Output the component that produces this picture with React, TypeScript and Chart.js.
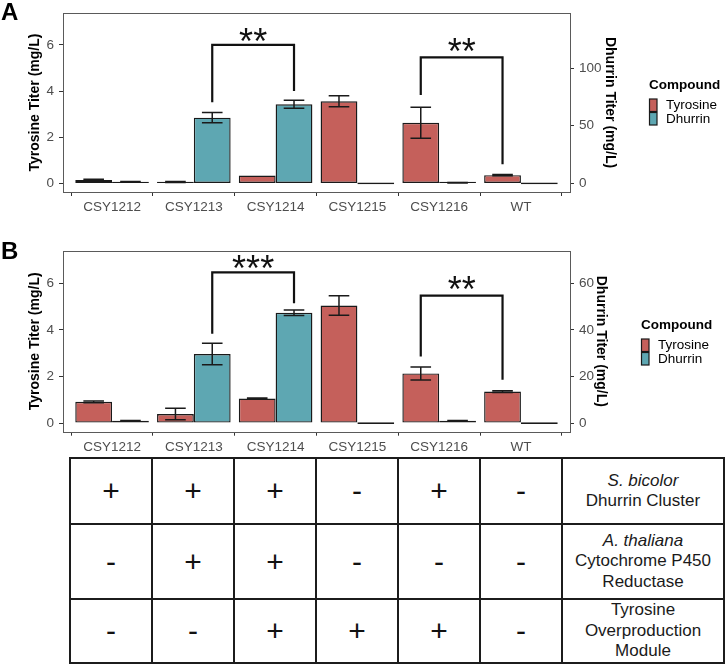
import React, { useEffect, useRef } from 'react';
import { Chart, registerables } from 'chart.js';

Chart.register(...registerables);

const FONT = "'Liberation Sans', Arial, Helvetica, sans-serif";

// ---------- data ----------
const categories = ['CSY1212', 'CSY1213', 'CSY1214', 'CSY1215', 'CSY1216', 'WT'];
const seriesNames = ['Tyrosine', 'Dhurrin'];

// Panel A (Tyrosine in mg/L on left axis, Dhurrin in mg/L on right axis)
const tyrosineA = [0.15, 0.06, 0.34, 3.56, 2.63, 0.36];
const tyrosineErrA = [0.03, 0.02, 0.0, 0.24, 0.67, 0.03];
const dhurrinA = [1.4, 57.0, 68.6, 0, 0.6, 0];
const dhurrinErrA = [0.2, 4.4, 3.4, 0, 0.2, 0];

// Panel B
const tyrosineB = [0.91, 0.39, 1.05, 5.04, 2.13, 1.35];
const tyrosineErrB = [0.04, 0.25, 0.03, 0.42, 0.28, 0.04];
const dhurrinB = [1.0, 29.6, 47.3, 0, 1.0, 0];
const dhurrinErrB = [0.05, 4.6, 1.2, 0, 0.05, 0];

const leftTicks = [0, 2, 4, 6];
const rightTicksA = [0, 50, 100];
const rightTicksB = [0, 20, 40, 60];
const leftRange = [-0.37, 7.38];
const rightRatioA = 20;
const rightRatioB = 10;

// significance brackets: category indices, dataset index, heights in left-axis units
const bracketsA = [
  { from: 1, to: 2, dataset: 1, top: 6.0, leftEnd: 3.52, rightEnd: 4.0, label: '**', labelY: 6.44 },
  { from: 4, to: 5, dataset: 0, top: 5.46, leftEnd: 3.83, rightEnd: 0.83, label: '**', labelY: 6.0 },
];
const bracketsB = [
  { from: 1, to: 2, dataset: 1, top: 6.46, leftEnd: 3.83, rightEnd: 5.14, label: '***', labelY: 6.9 },
  { from: 4, to: 5, dataset: 0, top: 5.47, leftEnd: 2.86, rightEnd: 1.86, label: '**', labelY: 6.0 },
];

// genotype table
const tableMarks = [
  ['+', '+', '+', '-', '+', '-'],
  ['-', '+', '+', '-', '-', '-'],
  ['-', '-', '+', '+', '+', '-'],
];
const tableLabels = [
  { italic: 'S. bicolor', lines: ['Dhurrin Cluster'] },
  { italic: 'A. thaliana', lines: ['Cytochrome P450', 'Reductase'] },
  { italic: '', lines: ['Tyrosine', 'Overproduction', 'Module'] },
];

const RED = '#C5605B';
const TEAL = '#5EA7B2';
const EDGE = '#1a1a1a';
const TICK_COLOR = '#4D4D4D';

type PanelProps = {
  letter: string;
  tyr: number[];
  tyrErr: number[];
  dhu: number[];
  dhuErr: number[];
  rightTicks: number[];
  ratio: number;
  brackets: typeof bracketsA;
  top: number;
  height: number;
  areaTop: number;
  areaBottom: number;
  rightWidth: number;
  legendX: number;
  legendY: number;
  letterBaseline: number;
};

function Panel(p: PanelProps) {
  const ref = useRef<HTMLCanvasElement>(null);
  useEffect(() => {
    const canvas = ref.current!;
    const overlay = {
      id: 'overlay' + p.letter,
      afterDatasetsDraw(chart: any) {
        const ctx = chart.ctx;
        const area = chart.chartArea;
        const ys = chart.scales.y;
        ctx.save();
        // error bars
        chart.data.datasets.forEach((ds: any, d: number) => {
          const meta = chart.getDatasetMeta(d);
          const sc = chart.scales[ds.yAxisID];
          ds.data.forEach((pt: any, i: number) => {
            const e = ds.errors[i];
            if (!e) return;
            const el = meta.data[i];
            const x = el.x;
            const half = el.width * 0.28;
            const y1 = sc.getPixelForValue(pt.y + e);
            const y2 = sc.getPixelForValue(pt.y - e);
            ctx.strokeStyle = EDGE;
            ctx.lineWidth = 1.5;
            ctx.beginPath();
            ctx.moveTo(x, y1); ctx.lineTo(x, y2);
            ctx.moveTo(x - half, y1); ctx.lineTo(x + half, y1);
            ctx.moveTo(x - half, y2); ctx.lineTo(x + half, y2);
            ctx.stroke();
          });
        });
        // panel border
        ctx.strokeStyle = '#5a5a5a';
        ctx.lineWidth = 1;
        ctx.strokeRect(Math.round(area.left) + 0.5, Math.round(area.top) + 0.5,
          Math.round(area.right - area.left), Math.round(area.bottom - area.top));
        // brackets
        p.brackets.forEach((b) => {
          const meta = chart.getDatasetMeta(b.dataset);
          const xl = meta.data[b.from].x;
          const xr = meta.data[b.to].x;
          const yt = ys.getPixelForValue(b.top);
          ctx.strokeStyle = '#111';
          ctx.lineWidth = 2.2;
          ctx.lineJoin = 'miter';
          ctx.beginPath();
          ctx.moveTo(xl, ys.getPixelForValue(b.leftEnd));
          ctx.lineTo(xl, yt);
          ctx.lineTo(xr, yt);
          ctx.lineTo(xr, ys.getPixelForValue(b.rightEnd));
          ctx.stroke();
          ctx.font = `36px ${FONT}`;
          ctx.fillStyle = '#111';
          ctx.textAlign = 'center';
          ctx.textBaseline = 'alphabetic';
          const m = ctx.measureText(b.label);
          const cy = ys.getPixelForValue(b.labelY);
          const base = cy + (m.actualBoundingBoxAscent - m.actualBoundingBoxDescent) / 2;
          ctx.fillText(b.label, (xl + xr) / 2, base);
        });
        // legend
        ctx.textAlign = 'left';
        ctx.textBaseline = 'middle';
        ctx.fillStyle = '#000';
        ctx.font = `bold 13.5px ${FONT}`;
        ctx.fillText('Compound', p.legendX, p.legendY);
        const colors = [RED, TEAL];
        seriesNames.forEach((name, i) => {
          const ky = p.legendY + 14 + i * 13.5;
          ctx.fillStyle = colors[i];
          ctx.fillRect(p.legendX + 0.5, ky, 7.5, 12.5);
          ctx.strokeStyle = EDGE;
          ctx.lineWidth = 1.2;
          ctx.strokeRect(p.legendX + 0.5, ky, 7.5, 12.5);
          ctx.fillStyle = '#000';
          ctx.font = `13.5px ${FONT}`;
          ctx.fillText(name, p.legendX + 17, ky + 6.5);
        });
        // panel letter
        ctx.font = `bold 24px ${FONT}`;
        ctx.textBaseline = 'alphabetic';
        ctx.fillStyle = '#000';
        ctx.fillText(p.letter, 1, p.letterBaseline);
        ctx.restore();
      },
    };

    const tickFont = { family: FONT, size: 13.5 };
    const titleFont = { family: FONT, size: 14, weight: 'bold' as const };
    const gridOpts = { display: true, drawOnChartArea: false, drawTicks: true, tickLength: 4, color: '#333', tickColor: '#333', lineWidth: 1 };
    const H = p.height;

    const chart = new Chart(canvas, {
      type: 'bar',
      data: {
        datasets: [
          {
            label: seriesNames[0],
            data: p.tyr.map((v, i) => ({ x: i + 1, y: v })),
            backgroundColor: RED,
            borderColor: EDGE,
            borderWidth: 1.4,
            borderSkipped: false,
            minBarLength: 1.8,
            yAxisID: 'y',
            errors: p.tyrErr,
          } as any,
          {
            label: seriesNames[1],
            data: p.dhu.map((v, i) => ({ x: i + 1, y: v })),
            backgroundColor: TEAL,
            borderColor: EDGE,
            borderWidth: 1.4,
            borderSkipped: false,
            minBarLength: 1.8,
            yAxisID: 'y1',
            errors: p.dhuErr,
          } as any,
        ],
      },
      options: {
        responsive: false,
        animation: false,
        events: [],
        layout: { padding: { left: 0, right: 728 - 570 - p.rightWidth, top: p.areaTop, bottom: 0 } },
        datasets: { bar: { categoryPercentage: 0.9, barPercentage: 1 } },
        plugins: { legend: { display: false }, tooltip: { enabled: false } },
        scales: {
          x: {
            type: 'linear',
            min: 0.4,
            max: 6.6,
            offset: false,
            afterBuildTicks: (s: any) => { s.ticks = categories.map((_, i) => ({ value: i + 1 })); },
            afterFit: (s: any) => { s.height = H - p.areaBottom; },
            ticks: { callback: (v: any) => categories[Math.round(v) - 1], font: tickFont, color: TICK_COLOR, padding: 3, autoSkip: false, maxRotation: 0 },
            grid: gridOpts,
            border: { display: false },
          },
          y: {
            type: 'linear',
            position: 'left',
            min: leftRange[0],
            max: leftRange[1],
            afterBuildTicks: (s: any) => { s.ticks = leftTicks.map((v) => ({ value: v })); },
            afterFit: (s: any) => { s.width = 63; },
            ticks: { font: tickFont, color: TICK_COLOR, padding: 5 },
            grid: gridOpts,
            border: { display: false },
            title: { display: true, text: 'Tyrosine Titer (mg/L)', font: titleFont, color: '#000', padding: { top: 27, bottom: 0 } },
          },
          y1: {
            type: 'linear',
            position: 'right',
            min: leftRange[0] * p.ratio,
            max: leftRange[1] * p.ratio,
            afterBuildTicks: (s: any) => { s.ticks = p.rightTicks.map((v) => ({ value: v })); },
            afterFit: (s: any) => { s.width = p.rightWidth; },
            ticks: { font: tickFont, color: TICK_COLOR, padding: 5 },
            grid: gridOpts,
            border: { display: false },
            title: { display: true, text: 'Dhurrin Titer (mg/L)', font: titleFont, color: '#000', padding: { top: 0, bottom: 0 } },
          },
        },
      } as any,
      plugins: [overlay],
    });
    return () => chart.destroy();
  }, []);
  return (
    <canvas
      ref={ref}
      width={728}
      height={p.height}
      style={{ position: 'absolute', left: 0, top: p.top, width: 728, height: p.height }}
    />
  );
}

function GenotypeTable() {
  const cols = '80px 80px 80px 80px 80px 80px 160px';
  const cells: React.ReactNode[] = [];
  tableMarks.forEach((row, r) => {
    row.forEach((m, c) => {
      cells.push(
        <div key={`m${r}-${c}`} style={{ background: '#fff', display: 'flex', alignItems: 'center', justifyContent: 'center', fontSize: 30, fontFamily: FONT, color: '#111', lineHeight: 1 }}>
          {m}
        </div>
      );
    });
    const lab = tableLabels[r];
    cells.push(
      <div key={`l${r}`} style={{ background: '#fff', display: 'flex', flexDirection: 'column', alignItems: 'center', justifyContent: 'center', fontSize: 17, lineHeight: '20.5px', fontFamily: FONT, color: '#1a1a1a', textAlign: 'center' }}>
        {lab.italic ? <div style={{ fontStyle: 'italic' }}>{lab.italic}</div> : null}
        {lab.lines.map((t, i) => <div key={i}>{t}</div>)}
      </div>
    );
  });
  return (
    <div
      style={{
        position: 'absolute', left: 69, top: 457, width: 656, height: 207, boxSizing: 'border-box',
        background: '#1c1c1c', padding: 2, display: 'grid', gridTemplateColumns: cols,
        gridTemplateRows: '64px 73px 62px', gap: 2,
      }}
    >
      {cells}
    </div>
  );
}

export default function App() {
  return (
    <div style={{ position: 'absolute', left: 0, top: 0, width: 728, height: 667, background: '#fff', overflow: 'hidden' }}>
      <Panel
        letter="A" tyr={tyrosineA} tyrErr={tyrosineErrA} dhu={dhurrinA} dhuErr={dhurrinErrA}
        rightTicks={rightTicksA} ratio={rightRatioA} brackets={bracketsA}
        top={0} height={220} areaTop={11} areaBottom={192} rightWidth={48.4}
        legendX={649} legendY={85} letterBaseline={20}
      />
      <Panel
        letter="B" tyr={tyrosineB} tyrErr={tyrosineErrB} dhu={dhurrinB} dhuErr={dhurrinErrB}
        rightTicks={rightTicksB} ratio={rightRatioB} brackets={bracketsB}
        top={236} height={220} areaTop={15} areaBottom={195.7} rightWidth={39.1}
        legendX={641} legendY={89} letterBaseline={23}
      />
      <GenotypeTable />
    </div>
  );
}
